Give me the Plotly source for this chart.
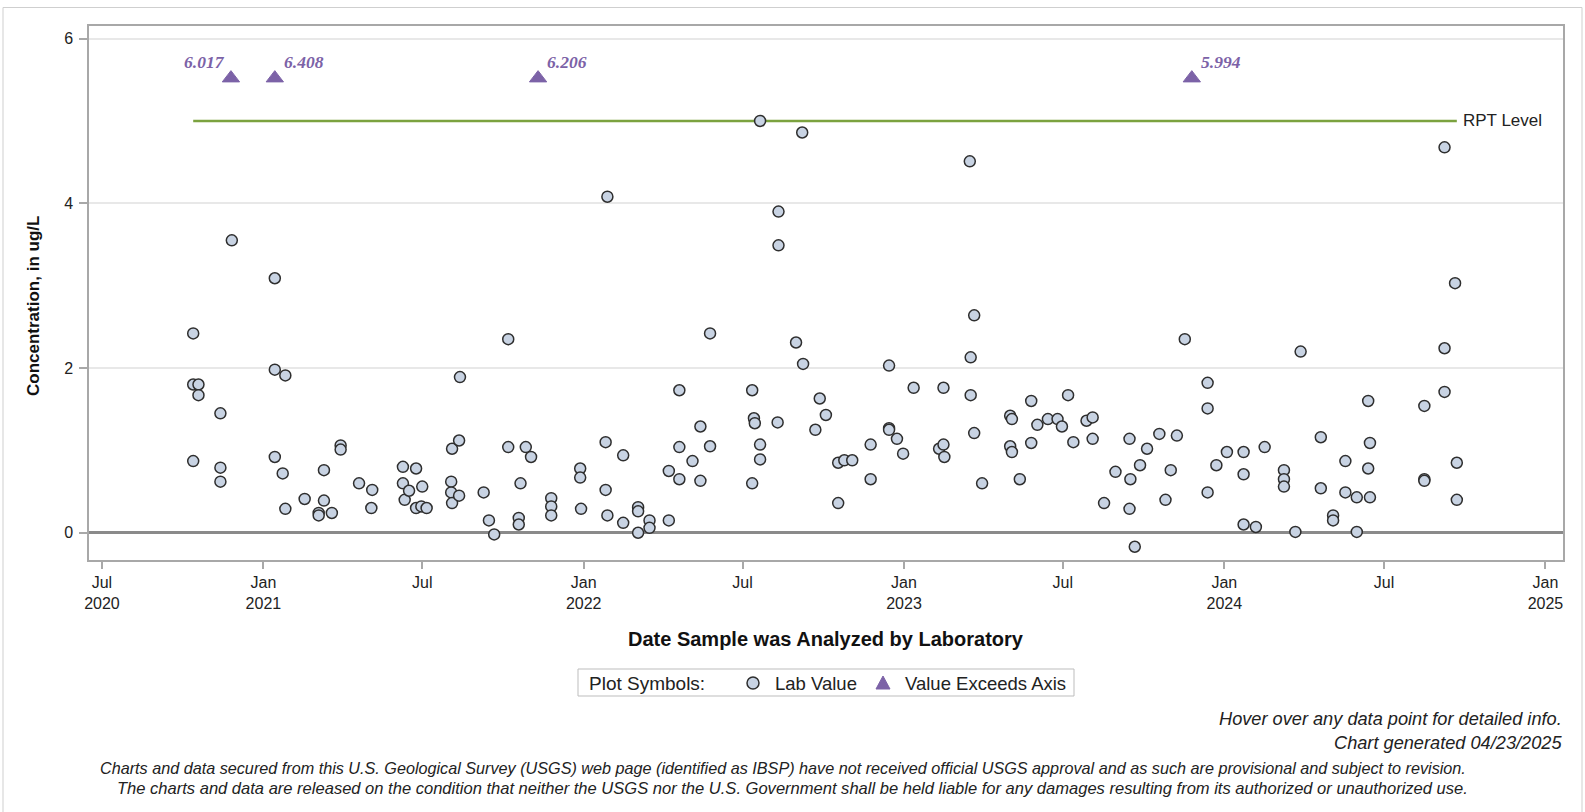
import plotly.graph_objects as go

W, H = 1585, 812
L, R, T, B = 89, 22, 26, 252
PW, PH = W - L - R, H - T - B


def px(x):
    return (x - L) / PW


def py(y):
    return (H - B - y) / PH


sample_dates = [
    "2020-10-13", "2020-10-13", "2020-10-13", "2020-10-19", "2020-10-19",
    "2020-11-13", "2020-11-13", "2020-11-13", "2020-11-26",
    "2021-01-14", "2021-01-14", "2021-01-14", "2021-01-23", "2021-01-26", "2021-01-26",
    "2021-02-17", "2021-03-05", "2021-03-05", "2021-03-11", "2021-03-11", "2021-03-20",
    "2021-03-30", "2021-03-30", "2021-04-20", "2021-05-04", "2021-05-05",
    "2021-06-09", "2021-06-09", "2021-06-11", "2021-06-16", "2021-06-24", "2021-06-24",
    "2021-06-30", "2021-07-01", "2021-07-06",
    "2021-08-03", "2021-08-03", "2021-08-04", "2021-08-04", "2021-08-12", "2021-08-12",
    "2021-08-13", "2021-09-09", "2021-09-15", "2021-09-21",
    "2021-10-07", "2021-10-07", "2021-10-19", "2021-10-19", "2021-10-21", "2021-10-27",
    "2021-11-02", "2021-11-25", "2021-11-25", "2021-11-25",
    "2021-12-28", "2021-12-28", "2021-12-29",
    "2022-01-26", "2022-01-26", "2022-01-28", "2022-01-28", "2022-02-15", "2022-02-15",
    "2022-03-04", "2022-03-04", "2022-03-04", "2022-03-17", "2022-03-17",
    "2022-04-08", "2022-04-08", "2022-04-20", "2022-04-20", "2022-04-20",
    "2022-05-05", "2022-05-14", "2022-05-14", "2022-05-25", "2022-05-25",
    "2022-07-12", "2022-07-12", "2022-07-14", "2022-07-15",
    "2022-07-21", "2022-07-21", "2022-07-21", "2022-08-10", "2022-08-11", "2022-08-11",
    "2022-08-31", "2022-09-07", "2022-09-08", "2022-09-22", "2022-09-27", "2022-10-04",
    "2022-10-18", "2022-10-18", "2022-10-25", "2022-11-03", "2022-11-24", "2022-11-24",
    "2022-12-15", "2022-12-15", "2022-12-15", "2022-12-24", "2022-12-31",
    "2023-01-12", "2023-02-10", "2023-02-15", "2023-02-15", "2023-02-16",
    "2023-03-17", "2023-03-18", "2023-03-18", "2023-03-22", "2023-03-22", "2023-03-31",
    "2023-05-02", "2023-05-02", "2023-05-04", "2023-05-04", "2023-05-13",
    "2023-05-26", "2023-05-26", "2023-06-02", "2023-06-14", "2023-06-25", "2023-06-30",
    "2023-07-07", "2023-07-13", "2023-07-28", "2023-08-04", "2023-08-04",
    "2023-08-17", "2023-08-30", "2023-09-15", "2023-09-15", "2023-09-16", "2023-09-21",
    "2023-09-27", "2023-10-05", "2023-10-19", "2023-10-26", "2023-11-01", "2023-11-08",
    "2023-11-17", "2023-12-13", "2023-12-13", "2023-12-13", "2023-12-23",
    "2024-01-04", "2024-01-23", "2024-01-23", "2024-01-23", "2024-02-06", "2024-02-16",
    "2024-03-09", "2024-03-09", "2024-03-09", "2024-03-22", "2024-03-28",
    "2024-04-20", "2024-04-20", "2024-05-04", "2024-05-04", "2024-05-18", "2024-05-18",
    "2024-05-31", "2024-05-31", "2024-06-13", "2024-06-13", "2024-06-15", "2024-06-15",
    "2024-08-16", "2024-08-16", "2024-08-16", "2024-09-08", "2024-09-08", "2024-09-08",
    "2024-09-20", "2024-09-22", "2024-09-22",
]
sample_values = [
    2.42, 1.80, 0.87, 1.80, 1.67,
    1.45, 0.79, 0.62, 3.55,
    3.09, 1.98, 0.92, 0.72, 1.91, 0.29,
    0.41, 0.24, 0.21, 0.76, 0.39, 0.24,
    1.06, 1.01, 0.60, 0.30, 0.52,
    0.80, 0.60, 0.40, 0.51, 0.78, 0.30,
    0.32, 0.56, 0.30,
    0.62, 0.49, 1.02, 0.36, 1.12, 0.45,
    1.89, 0.49, 0.15, -0.02,
    2.35, 1.04, 0.18, 0.10, 0.60, 1.04,
    0.92, 0.42, 0.32, 0.21,
    0.78, 0.67, 0.29,
    1.10, 0.52, 4.08, 0.21, 0.94, 0.12,
    0.31, 0.26, 0.00, 0.15, 0.06,
    0.75, 0.15, 1.73, 1.04, 0.65,
    0.87, 1.29, 0.63, 2.42, 1.05,
    1.73, 0.60, 1.39, 1.33,
    5.00, 1.07, 0.89, 1.34, 3.90, 3.49,
    2.31, 4.86, 2.05, 1.25, 1.63, 1.43,
    0.85, 0.36, 0.88, 0.88, 1.07, 0.65,
    2.03, 1.27, 1.25, 1.14, 0.96,
    1.76, 1.02, 1.76, 1.07, 0.92,
    4.51, 2.13, 1.67, 2.64, 1.21, 0.60,
    1.42, 1.05, 1.38, 0.98, 0.65,
    1.60, 1.09, 1.31, 1.38, 1.38, 1.29,
    1.67, 1.10, 1.36, 1.40, 1.14,
    0.36, 0.74, 1.14, 0.29, 0.65, -0.17,
    0.82, 1.02, 1.20, 0.40, 0.76, 1.18,
    2.35, 1.82, 1.51, 0.49, 0.82,
    0.98, 0.98, 0.71, 0.10, 0.07, 1.04,
    0.76, 0.65, 0.56, 0.01, 2.20,
    1.16, 0.54, 0.21, 0.15, 0.87, 0.49,
    0.43, 0.01, 1.60, 0.78, 1.09, 0.43,
    1.54, 0.65, 0.63, 4.68, 2.24, 1.71,
    3.03, 0.85, 0.40,
]

exceed_dates = ["2020-11-25", "2021-01-14", "2021-11-10", "2023-11-25"]
exceed_values = [6.017, 6.408, 6.206, 5.994]
exceed_label_side = ["left", "right", "right", "right"]
exceed_marker_level = 5.52
exceed_label_level = 5.72

rpt_level = 5.0
rpt_label = "RPT Level"

tick_dates = ["2020-07-01", "2021-01-01", "2021-07-01", "2022-01-01", "2022-07-01",
              "2023-01-01", "2023-07-01", "2024-01-01", "2024-07-01", "2025-01-01"]
tick_labels = ["Jul<br>2020", "Jan<br>2021", "Jul", "Jan<br>2022", "Jul",
               "Jan<br>2023", "Jul", "Jan<br>2024", "Jul", "Jan<br>2025"]
y_ticks = [0, 2, 4, 6]

x_range = ["2020-06-16 06:00", "2025-01-21"]
y_range = [-0.331, 6.153]

PURPLE = "#7c62a7"
GREEN = "#7ba23f"
FILL = "#c8d3e3"
EDGE = "#2e2e2e"
FRAME = "#a8a8a8"
SANS = "Liberation Sans, Arial, sans-serif"

fig = go.Figure()

all_dates = sorted(sample_dates)
fig.add_trace(go.Scatter(
    x=[all_dates[0], all_dates[-1]], y=[rpt_level, rpt_level],
    mode="lines", line=dict(color=GREEN, width=2.5),
    hoverinfo="skip", showlegend=False))

fig.add_trace(go.Scatter(
    x=sample_dates, y=sample_values, mode="markers",
    marker=dict(symbol="circle", size=11, color=FILL,
                line=dict(color=EDGE, width=1.5)),
    name="Lab Value", showlegend=False,
    hovertemplate="%{x|%m/%d/%Y}<br>%{y:.3f} ug/L<extra></extra>"))

fig.add_trace(go.Scatter(
    x=exceed_dates, y=[exceed_marker_level] * len(exceed_dates), mode="markers",
    marker=dict(symbol="triangle-up", size=15, color=PURPLE,
                line=dict(color=PURPLE, width=1)),
    name="Value Exceeds Axis", showlegend=False,
    customdata=exceed_values,
    hovertemplate="%{x|%m/%d/%Y}<br>%{customdata:.3f} ug/L<extra></extra>"))

annotations = []
for d, v, side in zip(exceed_dates, exceed_values, exceed_label_side):
    annotations.append(dict(
        x=d, y=exceed_label_level, xref="x", yref="y",
        text=f"{v:.3f}", showarrow=False,
        xanchor="right" if side == "left" else "left",
        xshift=-4 if side == "left" else 7, yanchor="middle",
        font=dict(family="Liberation Serif, Times New Roman, serif", size=17.5,
                  color=PURPLE, weight="bold", style="italic")))

annotations.append(dict(
    x=all_dates[-1], y=rpt_level, xref="x", yref="y", text=rpt_label,
    showarrow=False, xanchor="left", xshift=4, yanchor="middle",
    font=dict(family=SANS, size=17, color="#222")))

# axis titles
annotations.append(dict(
    x=px(826), y=py(639), xref="paper", yref="paper",
    text="Date Sample was Analyzed by Laboratory", showarrow=False,
    xanchor="center", yanchor="middle",
    font=dict(family=SANS, size=20, color="#111", weight="bold")))
annotations.append(dict(
    x=px(33), y=py(306), xref="paper", yref="paper",
    text="Concentration, in ug/L", showarrow=False, textangle=-90,
    xanchor="center", yanchor="middle",
    font=dict(family=SANS, size=17, color="#111", weight="bold")))

# legend (manual)
LEG_Y = 683
annotations.append(dict(x=px(587), y=py(LEG_Y), xref="paper", yref="paper",
                        text="Plot Symbols:", showarrow=False, xanchor="left",
                        yanchor="middle", font=dict(family=SANS, size=19, color="#222")))
annotations.append(dict(x=px(773), y=py(LEG_Y), xref="paper", yref="paper",
                        text="Lab Value", showarrow=False, xanchor="left",
                        yanchor="middle", font=dict(family=SANS, size=18.5, color="#222")))
annotations.append(dict(x=px(903), y=py(LEG_Y), xref="paper", yref="paper",
                        text="Value Exceeds Axis", showarrow=False, xanchor="left",
                        yanchor="middle", font=dict(family=SANS, size=18.5, color="#222")))

# footer
annotations.append(dict(x=px(1564), y=py(719), xref="paper", yref="paper",
                        text="Hover over any data point for detailed info.", showarrow=False,
                        xanchor="right", yanchor="middle",
                        font=dict(family=SANS, size=18.2, color="#222", style="italic")))
annotations.append(dict(x=px(1564), y=py(743), xref="paper", yref="paper",
                        text="Chart generated 04/23/2025", showarrow=False,
                        xanchor="right", yanchor="middle",
                        font=dict(family=SANS, size=18.2, color="#222", style="italic")))
annotations.append(dict(
    x=px(783), y=py(768), xref="paper", yref="paper",
    text="Charts and data secured from this U.S. Geological Survey (USGS) web page (identified as IBSP) have not received official USGS approval and as such are provisional and subject to revision.",
    showarrow=False, xanchor="center", yanchor="middle",
    font=dict(family=SANS, size=16.2, color="#222", style="italic")))
annotations.append(dict(
    x=px(792), y=py(788), xref="paper", yref="paper",
    text="The charts and data are released on the condition that neither the USGS nor the U.S. Government shall be held liable for any damages resulting from its authorized or unauthorized use.",
    showarrow=False, xanchor="center", yanchor="middle",
    font=dict(family=SANS, size=16.55, color="#222", style="italic")))

shapes = [
    # outer border
    dict(type="rect", xref="paper", yref="paper", x0=px(3), x1=px(1582),
         y0=py(816), y1=py(7.5), line=dict(color="#cfcfcf", width=1), layer="below"),
    # legend box
    dict(type="rect", xref="paper", yref="paper", x0=px(578), x1=px(1074),
         y0=py(696), y1=py(669), line=dict(color="#bdbdbd", width=1)),
    # legend circle
    dict(type="circle", xref="paper", yref="paper", xsizemode="pixel", ysizemode="pixel",
         xanchor=px(753), yanchor=py(LEG_Y), x0=-6, x1=6, y0=-6, y1=6,
         fillcolor=FILL, line=dict(color=EDGE, width=1.5)),
    # legend triangle
    dict(type="path", xref="paper", yref="paper", xsizemode="pixel", ysizemode="pixel",
         xanchor=px(883), yanchor=py(LEG_Y), path="M -7,-6 L 7,-6 L 0,7 Z",
         fillcolor=PURPLE, line=dict(color=PURPLE, width=1)),
]

fig.update_layout(
    width=W, height=H, autosize=False,
    margin=dict(l=L, r=R, t=T, b=B, pad=0),
    paper_bgcolor="white", plot_bgcolor="white",
    showlegend=False, hovermode="closest",
    annotations=annotations, shapes=shapes,
    font=dict(family=SANS, size=16, color="#222"),
    xaxis=dict(
        type="date", range=x_range, tickmode="array",
        tickvals=tick_dates, ticktext=tick_labels,
        showgrid=False, zeroline=False,
        showline=True, mirror=True, linecolor=FRAME, linewidth=1.5,
        ticks="outside", ticklen=7, tickcolor=FRAME, tickwidth=1.5,
        tickfont=dict(family=SANS, size=16, color="#222"),
    ),
    yaxis=dict(
        range=y_range, tickmode="array", tickvals=y_ticks,
        showgrid=True, gridcolor="#e8e8e8", gridwidth=1.5,
        zeroline=True, zerolinecolor="#8a8a8a", zerolinewidth=2.5,
        showline=True, mirror=True, linecolor=FRAME, linewidth=1.5,
        ticks="outside", ticklen=8, tickcolor=FRAME, tickwidth=1.5,
        ticklabelstandoff=3,
        tickfont=dict(family=SANS, size=16, color="#222"),
    ),
)

fig.write_html("out.html", config={"displayModeBar": False},
               post_script="document.body.style.margin='0';")
